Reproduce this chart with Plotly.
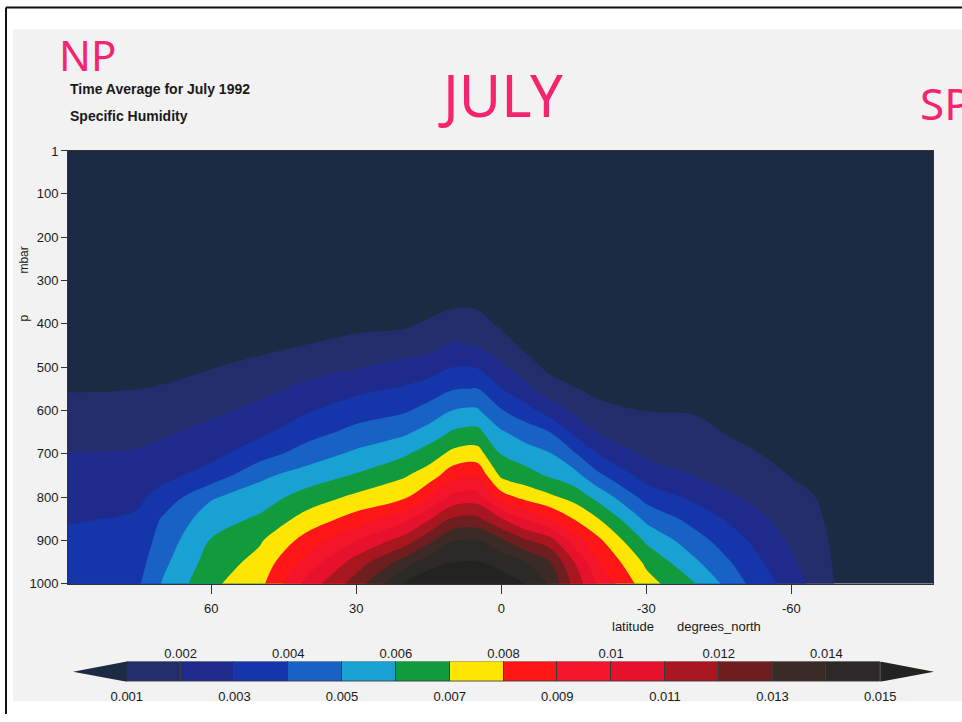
import numpy as np
import plotly.graph_objects as go

W, H = 962, 722

# Zonal-mean specific humidity, July 1992 (g/kg), one row per pressure level
latitude = [90, 80, 75, 70, 60, 50, 40, 30, 20, 15, 10, 5, 0,
            -5, -10, -15, -20, -30, -40, -50, -60, -65, -70, -80, -90]
pressure = [1000, 950, 900, 850, 800, 750, 700, 650, 600, 550, 500, 450, 400, 350, 300, 1]
q_gkg = [
    [3.50, 3.70, 3.90, 5.10, 6.80, 7.70, 10.40, 12.50, 15.20, 15.70, 16.00, 16.00, 15.50,
     15.00, 13.90, 11.70, 9.90, 7.40, 6.05, 4.10, 2.50, 1.70, 0.80, 0.60, 0.50],
    [3.32, 3.47, 3.65, 4.76, 6.44, 7.32, 9.41, 11.43, 13.45, 14.58, 14.99, 15.05, 14.64,
     14.05, 13.05, 11.04, 9.07, 6.79, 5.17, 3.62, 2.15, 1.52, 0.75, 0.56, 0.47],
    [3.14, 3.24, 3.40, 4.44, 6.07, 6.88, 8.42, 10.00, 11.46, 12.70, 13.95, 14.10, 13.19,
     12.12, 11.45, 9.53, 8.24, 5.83, 4.41, 3.12, 1.83, 1.35, 0.69, 0.52, 0.43],
    [2.94, 3.02, 3.14, 4.12, 5.54, 6.15, 7.41, 8.40, 9.68, 10.87, 12.13, 12.21, 11.05,
     9.91, 8.94, 7.97, 7.03, 4.76, 3.62, 2.52, 1.55, 1.17, 0.64, 0.48, 0.40],
    [2.63, 2.70, 2.84, 3.37, 4.89, 5.52, 6.42, 7.22, 7.86, 8.95, 10.29, 10.45, 8.45,
     7.67, 7.21, 6.65, 5.67, 3.64, 2.76, 1.93, 1.26, 1.00, 0.59, 0.44, 0.37],
    [2.33, 2.37, 2.47, 2.72, 3.42, 4.78, 5.47, 6.10, 6.90, 7.50, 8.61, 8.82, 6.80,
     6.42, 5.88, 5.39, 4.23, 2.57, 1.97, 1.55, 0.97, 0.82, 0.53, 0.40, 0.33],
    [2.03, 2.05, 2.10, 2.30, 2.71, 3.56, 4.48, 5.20, 5.86, 6.48, 7.27, 7.42, 5.96,
     5.46, 5.08, 4.13, 3.00, 1.81, 1.62, 1.17, 0.69, 0.65, 0.48, 0.36, 0.30],
    [1.67, 1.69, 1.73, 1.88, 2.26, 2.80, 3.62, 4.30, 4.83, 5.38, 6.12, 6.28, 5.12,
     4.54, 4.01, 2.81, 1.95, 1.39, 1.27, 0.80, 0.40, 0.47, 0.43, 0.32, 0.27],
    [1.31, 1.32, 1.36, 1.48, 1.81, 2.24, 2.92, 3.51, 3.88, 4.37, 5.02, 5.13, 4.07,
     3.38, 2.53, 1.81, 1.33, 0.97, 0.93, 0.42, 0.11, 0.30, 0.37, 0.28, 0.23],
    [0.94, 0.96, 0.99, 1.08, 1.38, 1.73, 2.26, 2.75, 3.12, 3.46, 3.94, 4.03, 3.03,
     2.27, 1.52, 1.09, 0.70, 0.55, 0.58, 0.08, 0.08, 0.12, 0.32, 0.24, 0.20],
    [0.58, 0.60, 0.62, 0.69, 0.96, 1.26, 1.63, 1.94, 2.30, 2.51, 2.99, 2.94, 2.18,
     1.48, 0.74, 0.36, 0.08, 0.13, 0.23, 0.08, 0.08, 0.08, 0.27, 0.20, 0.17],
    [0.22, 0.23, 0.25, 0.29, 0.53, 0.78, 1.03, 1.33, 1.55, 1.71, 2.12, 1.97, 1.48,
     0.77, 0.08, 0.08, 0.08, 0.08, 0.08, 0.08, 0.08, 0.08, 0.21, 0.16, 0.13],
    [0.08, 0.08, 0.08, 0.08, 0.10, 0.31, 0.42, 0.73, 0.84, 1.14, 1.45, 1.38, 0.82,
     0.08, 0.08, 0.08, 0.08, 0.08, 0.08, 0.08, 0.08, 0.08, 0.16, 0.12, 0.10],
    [0.08, 0.08, 0.08, 0.08, 0.08, 0.08, 0.08, 0.12, 0.14, 0.56, 0.80, 0.79, 0.16,
     0.08, 0.08, 0.08, 0.08, 0.08, 0.08, 0.08, 0.08, 0.08, 0.11, 0.10, 0.10],
    [0.08, 0.08, 0.08, 0.08, 0.08, 0.08, 0.08, 0.08, 0.08, 0.08, 0.16, 0.20, 0.08,
     0.08, 0.08, 0.08, 0.08, 0.08, 0.08, 0.08, 0.08, 0.08, 0.10, 0.10, 0.10],
    [0.0] * 25,
]
q = (np.array(q_gkg) / 1000.0).tolist()   # kg/kg

# contour levels and fill colours (below first level ... above last level)
levels = [0.001, 0.002, 0.003, 0.004, 0.005, 0.006, 0.007, 0.008,
          0.009, 0.010, 0.011, 0.012, 0.013, 0.014, 0.015]
band_colors = ['#1c2a43', '#242d6c', '#1f2b8c', '#1535ab', '#1862c6', '#19a1d4',
               '#119b3d', '#ffe600', '#ff1717', '#f4152b', '#e5112d', '#a8171f',
               '#6f1e1f', '#3b2a25', '#2b2a26', '#232320']
odd_labels = ['0.001', '0.003', '0.005', '0.007', '0.009', '0.011', '0.013', '0.015']
even_labels = ['0.002', '0.004', '0.006', '0.008', '0.01', '0.012', '0.014']

step = levels[1] - levels[0]
n = len(band_colors) - 1
cscale = []
for k, c in enumerate(band_colors):
    cscale.append([max(0, (k - 0.5) / n), c])
    cscale.append([min(1, (k + 0.5) / n), c])

fig = go.Figure()
fig.add_trace(go.Contour(
    x=latitude, y=pressure, z=q,
    contours=dict(start=levels[0], end=levels[-1], size=step, coloring='fill'),
    colorscale=cscale, showscale=False, line=dict(width=0, smoothing=1),
    hoverinfo='skip'))

# colour key: boxes for the closed bins, triangles for the open ends
centers = [(a + b) / 2 for a, b in zip(levels[:-1], levels[1:])]
fig.add_trace(go.Bar(x=centers, y=[1] * len(centers), width=step,
                     marker=dict(color=band_colors[1:-1], line=dict(color='#3a3a3a', width=1)),
                     xaxis='x2', yaxis='y2', hoverinfo='skip'))
fig.add_trace(go.Scatter(x=[levels[0], levels[0] - step, levels[0], levels[0]], y=[0, 0.5, 1, 0],
                         fill='toself', fillcolor=band_colors[0], mode='lines', line=dict(width=0),
                         xaxis='x2', yaxis='y2', hoverinfo='skip'))
fig.add_trace(go.Scatter(x=[levels[-1], levels[-1] + step, levels[-1], levels[-1]], y=[0, 0.5, 1, 0],
                         fill='toself', fillcolor=band_colors[-1], mode='lines', line=dict(width=0),
                         xaxis='x2', yaxis='y2', hoverinfo='skip'))
fig.add_trace(go.Scatter(x=[levels[1]], y=[0.5], mode='markers', marker=dict(opacity=0),
                         xaxis='x3', yaxis='y2', hoverinfo='skip'))

FONT = 'Liberation Sans, Arial, sans-serif'
tickfont = dict(family=FONT, size=13, color='#1a1a1a')
# plot area in pixels (0 deg at x=501.3, 145 px per 30 deg)
x_left, x_right, y_top, y_bot = 68, 933, 147, 589
lat_left = (501.3 - x_left) / (145 / 30)
lat_right = (501.3 - x_right) / (145 / 30)
key_top, key_bot = 668.5, 689
fig.update_layout(
    width=W, height=H, margin=dict(l=0, r=0, t=0, b=0),
    paper_bgcolor='white', plot_bgcolor=band_colors[0], showlegend=False,
    font=tickfont, bargap=0,
    xaxis=dict(domain=[x_left / W, x_right / W], range=[lat_left, lat_right],
               tickvals=[60, 30, 0, -30, -60], ticktext=['60', '30', '0', '-30', '-60'],
               ticks='outside', ticklen=9, tickcolor='#333', ticklabelstandoff=4,
               showline=True, linecolor='#333', mirror=True,
               showgrid=False, zeroline=False, anchor='y', tickfont=tickfont),
    yaxis=dict(domain=[1 - y_bot / H, 1 - y_top / H], range=[1000, 1],
               tickvals=[1, 100, 200, 300, 400, 500, 600, 700, 800, 900, 1000],
               ticks='outside', ticklen=6, tickcolor='#333', showline=True, linecolor='#333',
               mirror=True, showgrid=False, zeroline=False, anchor='x', tickfont=tickfont),
    xaxis2=dict(domain=[73 / W, 934 / W], range=[levels[0] - step, levels[-1] + step],
                anchor='y2', tickvals=levels[0::2], ticktext=odd_labels, ticks='outside',
                ticklen=3, tickcolor='rgba(0,0,0,0)', showgrid=False, zeroline=False,
                showline=False, tickfont=tickfont),
    xaxis3=dict(domain=[73 / W, 934 / W], range=[levels[0] - step, levels[-1] + step],
                anchor='y2', overlaying='x2', side='top', tickvals=levels[1::2],
                ticktext=even_labels, ticks='', showgrid=False, zeroline=False,
                showline=False, tickfont=tickfont),
    yaxis2=dict(domain=[1 - key_bot / H, 1 - key_top / H], range=[0, 1], visible=False,
                anchor='x2'),
)

def ann(text, x, y, size, color='#1a1a1a', bold=False, angle=0, xanchor='center', family=FONT):
    fig.add_annotation(text=f'<b>{text}</b>' if bold else text, x=x / W, y=1 - y / H,
                       xref='paper', yref='paper', showarrow=False, textangle=angle,
                       xanchor=xanchor, yanchor='middle',
                       font=dict(size=size, color=color, family=family))

ann('Time Average for July 1992', 68, 84, 14, bold=True, xanchor='left')
ann('Specific Humidity', 68, 111.5, 14, bold=True, xanchor='left')
ann('latitude', 633, 633, 13)
ann('degrees_north', 719, 633, 13)
ann('mbar', 24, 259, 12, angle=-90)
ann('p', 24, 318, 12, angle=-90)

# handwritten notes on the sheet
pink = '#f5246f'
ann('NP', 87, 48, 42, color=pink, family='Noto Sans')
ann('JULY', 500, 89, 58, color=pink, family='Noto Sans')
ann('SP', 918, 98, 44, color=pink, xanchor='left', family='Noto Sans')

# scanned sheet and frame
fig.add_shape(type='rect', xref='paper', yref='paper', x0=13 / W, x1=1, y0=1 - 709 / H,
              y1=1 - 23 / H, fillcolor='#f1f2f1', line=dict(width=0), layer='below')
fig.add_shape(type='line', xref='paper', yref='paper', x0=6 / W, x1=1, y0=1 - 0.5 / H,
              y1=1 - 0.5 / H, line=dict(color='#111', width=2))
fig.add_shape(type='line', xref='paper', yref='paper', x0=6 / W, x1=6 / W, y0=0,
              y1=1 - 0.5 / H, line=dict(color='#111', width=2))

fig.write_html('out.html')
